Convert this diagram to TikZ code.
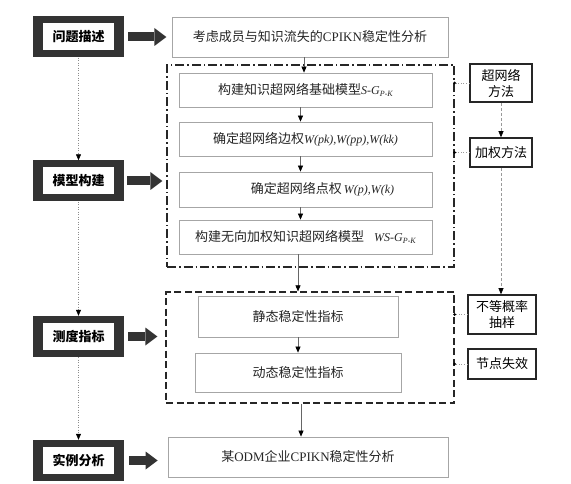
\documentclass[tikz,border=0pt]{standalone}
\usepackage{fontspec}
\setmainfont{Liberation Serif}
\newfontfamily\cjk{Noto Sans CJK SC}
\usetikzlibrary{arrows.meta}
\newcommand{\lat}[1]{{\fontsize{12}{14}\selectfont\itshape #1}}
\newcommand{\subpk}{\raisebox{-2.5pt}{\fontsize{8}{8}\selectfont\itshape P-K}}
\begin{document}
\begin{tikzpicture}[x=1pt,y=-1pt,
  outerbox/.style={fill=black!80, draw=none, minimum width=91pt, minimum height=41pt, inner sep=0pt},
  innerbox/.style={fill=white, draw=none, minimum width=71pt, minimum height=27pt, inner sep=0pt,
     font=\cjk\bfseries\fontsize{13}{15}\selectfont},
  graybox/.style={draw=black!35, line width=0.8pt, fill=white, inner sep=0pt, text=black!85,
     font=\fontsize{13}{15}\selectfont},
  sidebox/.style={draw=black!85, line width=1.6pt, fill=white, inner sep=0pt, align=center,
     font=\cjk\fontsize{13}{16}\selectfont},
  dashdotbox/.style={draw=black!85, line width=1.2pt, dash pattern=on 9pt off 3pt on 1.5pt off 3pt},
  dashbox/.style={draw=black!85, line width=1.2pt, dash pattern=on 7pt off 3.5pt},
  bigarrow/.style={line width=9pt, draw=black!80, -{Triangle[length=12pt,width=18pt,line width=0pt]}},
  thinarrow/.style={line width=0.6pt, draw=black!60, -{Triangle[length=6pt,width=5pt,black]}},
  leftdot/.style={line width=0.5pt, draw=black!45, dotted, -{Triangle[length=6pt,width=5pt,black]}},
  rightdash/.style={line width=0.6pt, draw=black!40, dash pattern=on 3pt off 2pt, -{Triangle[length=6pt,width=5pt,black]}},
  dotconn/.style={line width=0.6pt, draw=black!40, dotted}
]
\useasboundingbox (0,0) rectangle (571,484);

% left column
\node[outerbox] (p1o) at (78.5,37) {};
\node[innerbox] (p1) at (p1o) {问题描述};
\node[outerbox] (p2o) at (78.5,181) {};
\node[innerbox] (p2) at (p2o) {模型构建};
\node[outerbox] (p3o) at (78.5,336.5) {};
\node[innerbox] (p3) at (p3o) {测度指标};
\node[outerbox] (p4o) at (78.5,460.5) {};
\node[innerbox] (p4) at (p4o) {实例分析};

% group boxes
\node[dashdotbox, minimum width=287pt, minimum height=202pt, inner sep=0pt] (g1) at (310.5,166) {};
\node[dashbox, minimum width=288pt, minimum height=111pt, inner sep=0pt] (g2) at (310,347.5) {};

% middle column
\node[graybox, minimum width=276pt, minimum height=40pt] (t0) at (310,37)
  {{\cjk 考虑成员与知识流失的}CPIKN{\cjk 稳定性分析}};
\node[graybox, minimum width=253pt, minimum height=34pt] (a1) at (305.5,90)
  {{\cjk 构建知识超网络基础模型}\lat{S-G}\subpk};
\node[graybox, minimum width=253pt, minimum height=34pt] (a2) at (305.5,139)
  {{\cjk 确定超网络边权}\lat{W(pk),W(pp),W(kk)}};
\node[graybox, minimum width=253pt, minimum height=35pt] (a3) at (305.5,189.5)
  {\hspace*{34pt}{\cjk 确定超网络点权}\,\lat{W(p),W(k)}};
\node[graybox, minimum width=253pt, minimum height=34pt] (a4) at (305.5,237)
  {{\cjk 构建无向加权知识超网络模型}\hspace{10pt}\lat{WS-G}\subpk};
\node[graybox, minimum width=200pt, minimum height=41pt] (b1) at (298,316.5)
  {\cjk 静态稳定性指标};
\node[graybox, minimum width=206pt, minimum height=39pt] (b2) at (298,372.5)
  {\cjk 动态稳定性指标};
\node[graybox, minimum width=280pt, minimum height=40pt] (f) at (308,457)
  {{\cjk 某}ODM{\cjk 企业}CPIKN{\cjk 稳定性分析}};

% right column
\node[sidebox, minimum width=62pt, minimum height=38pt] (m1) at (501,83) {超网络\\方法};
\node[sidebox, minimum width=62pt, minimum height=29pt] (m2) at (501,152.5) {加权方法};
\node[sidebox, minimum width=68pt, minimum height=39pt] (m3) at (502,314.5) {不等概率\\抽样};
\node[sidebox, minimum width=68pt, minimum height=30pt] (m4) at (502,364) {节点失效};

% big arrows
\draw[bigarrow] ([xshift=4pt]p1o.east) -- (p1o.east -| g1.west);
\draw[bigarrow] ([xshift=3pt]p2o.east) -- ([xshift=-4pt]g1.west |- p2o.east);
\draw[bigarrow] ([xshift=4pt]p3o.east) -- ([xshift=-8pt]g2.west |- p3o.east);
\draw[bigarrow] ([xshift=5pt]p4o.east) -- ([xshift=-10pt]f.west |- p4o.east);

% left dotted arrows
\draw[leftdot] (p1o.south) -- (p2o.north);
\draw[leftdot] (p2o.south) -- (p3o.north);
\draw[leftdot] (p3o.south) -- (p4o.north);

% middle arrows
\draw[thinarrow] ([xshift=-1.5pt]a1.north |- t0.south) -- ([xshift=-1.5pt]a1.north);
\draw[thinarrow] ([xshift=-5pt]a1.south) -- ([xshift=-5pt]a2.north);
\draw[thinarrow] ([xshift=-5pt]a2.south) -- ([xshift=-5pt]a3.north);
\draw[thinarrow] ([xshift=-5pt]a3.south) -- ([xshift=-5pt]a4.north);
\draw[thinarrow] ([xshift=-7.5pt]a4.south) -- ([xshift=-7.5pt]a4.south |- g2.north);
\draw[thinarrow] (b1.south) -- (b2.north);
\draw[thinarrow] ([xshift=-7pt]f.north |- g2.south) -- ([xshift=-7pt]f.north);

% right connectors
\draw[rightdash] (m1.south) -- (m2.north);
\draw[rightdash] (m2.south) -- ([xshift=-1pt]m3.north);
\foreach \m in {m1,m2}{
  \draw[dotconn] (\m.west) -- (\m.west -| g1.east);
  \fill[black] (\m.west -| g1.east) circle (1.6pt);
}
\foreach \m in {m3,m4}{
  \draw[dotconn] (\m.west) -- (\m.west -| g2.east);
  \fill[black] (\m.west -| g2.east) circle (1.6pt);
}
\end{tikzpicture}
\end{document}
